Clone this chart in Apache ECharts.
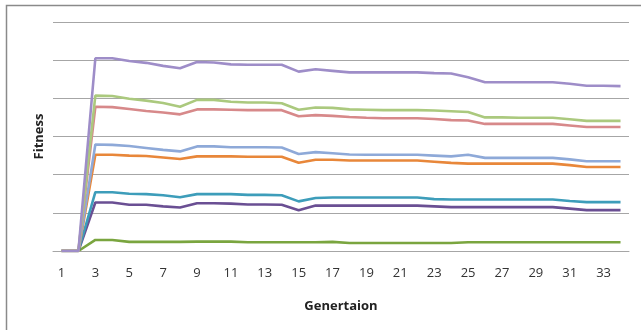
<!DOCTYPE html>
<html>
<head>
<meta charset="utf-8">
<script src="https://cdn.jsdelivr.net/npm/echarts@6/dist/echarts.min.js"></script>
<style>
html,body{margin:0;padding:0;background:#fff;}
#chart{width:641px;height:330px;}
</style>
</head>
<body>
<div id="chart"></div>
<script>
var categories = ['1','2','3','4','5','6','7','8','9','10','11','12','13','14','15','16','17','18','19','20','21','22','23','24','25','26','27','28','29','30','31','32','33','34'];

var lavender = [0,0,5.05,5.05,4.98,4.93,4.85,4.79,4.95,4.94,4.89,4.88,4.88,4.88,4.70,4.76,4.72,4.68,4.68,4.68,4.68,4.68,4.66,4.65,4.55,4.42,4.42,4.42,4.42,4.42,4.38,4.33,4.33,4.32];
var lightGreen = [0,0,4.07,4.06,3.99,3.94,3.88,3.78,3.96,3.96,3.91,3.89,3.89,3.87,3.70,3.76,3.75,3.71,3.70,3.69,3.69,3.69,3.68,3.66,3.64,3.50,3.50,3.49,3.49,3.49,3.45,3.41,3.41,3.41];
var pinkRed = [0,0,3.78,3.77,3.72,3.67,3.63,3.58,3.71,3.71,3.70,3.69,3.69,3.69,3.53,3.56,3.54,3.51,3.49,3.48,3.48,3.48,3.46,3.43,3.42,3.33,3.33,3.33,3.33,3.33,3.29,3.25,3.25,3.25];
var lightBlue = [0,0,2.79,2.78,2.75,2.70,2.65,2.61,2.74,2.74,2.72,2.72,2.72,2.71,2.54,2.59,2.56,2.53,2.52,2.52,2.52,2.52,2.50,2.48,2.52,2.44,2.44,2.44,2.44,2.44,2.40,2.35,2.35,2.35];
var orange = [0,0,2.52,2.52,2.50,2.49,2.45,2.41,2.48,2.48,2.48,2.47,2.47,2.47,2.31,2.39,2.39,2.37,2.37,2.37,2.37,2.37,2.34,2.31,2.29,2.29,2.29,2.29,2.29,2.29,2.25,2.20,2.20,2.20];
var teal = [0,0,1.54,1.54,1.50,1.49,1.46,1.41,1.49,1.49,1.49,1.47,1.47,1.46,1.30,1.39,1.40,1.40,1.40,1.40,1.40,1.40,1.36,1.35,1.35,1.35,1.35,1.35,1.35,1.35,1.31,1.28,1.28,1.28];
var darkPurple = [0,0,1.27,1.27,1.21,1.21,1.17,1.14,1.25,1.25,1.24,1.22,1.22,1.21,1.07,1.19,1.19,1.19,1.19,1.19,1.19,1.19,1.17,1.15,1.15,1.15,1.15,1.15,1.15,1.15,1.11,1.07,1.07,1.07];
var green = [0,0,0.29,0.29,0.24,0.24,0.24,0.24,0.245,0.245,0.245,0.23,0.23,0.23,0.23,0.23,0.24,0.21,0.21,0.21,0.21,0.21,0.21,0.21,0.23,0.23,0.23,0.23,0.23,0.23,0.23,0.23,0.23,0.23];

var seriesList = [
  {data: green, color: '#7AA53F'},
  {data: darkPurple, color: '#6A4F93'},
  {data: teal, color: '#3D9DBA'},
  {data: orange, color: '#E8873A'},
  {data: lightBlue, color: '#8EA9D8'},
  {data: pinkRed, color: '#D7898A'},
  {data: lightGreen, color: '#ABC97E'},
  {data: lavender, color: '#9E8DC8'}
];

var chart = echarts.init(document.getElementById('chart'));
chart.setOption({
  animation: false,
  backgroundColor: '#ffffff',
  graphic: [{
    type: 'rect',
    shape: {x: 6.5, y: 5.5, width: 660, height: 360},
    style: {fill: 'none', stroke: '#8a8a8a', lineWidth: 1.5},
    z: 0
  }],
  grid: {left: 53, right: 12, top: 22, bottom: 79},
  xAxis: {
    type: 'category',
    data: categories,
    boundaryGap: true,
    name: 'Genertaion',
    nameLocation: 'middle',
    nameGap: 49,
    nameTextStyle: {fontFamily: 'Open Sans', fontWeight: 'bold', fontSize: 13, color: '#222'},
    axisLine: {lineStyle: {color: '#a6a6a6', width: 1}},
    axisTick: {show: false},
    axisLabel: {interval: 1, margin: 16, fontFamily: 'Open Sans', fontSize: 13, color: '#333'}
  },
  yAxis: {
    type: 'value',
    min: 0, max: 6, interval: 1,
    name: 'Fitness',
    nameLocation: 'middle',
    nameGap: 7,
    nameRotate: 90,
    nameTextStyle: {fontFamily: 'Open Sans', fontWeight: 'bold', fontSize: 13, color: '#222'},
    axisLine: {show: false},
    axisTick: {show: false},
    axisLabel: {show: false},
    splitLine: {lineStyle: {color: '#a6a6a6', width: 1}}
  },
  series: seriesList.map(function (s) {
    return {
      type: 'line',
      data: s.data,
      symbol: 'none',
      lineStyle: {color: s.color, width: 2.6},
      itemStyle: {color: s.color}
    };
  })
});
</script>
</body>
</html>
